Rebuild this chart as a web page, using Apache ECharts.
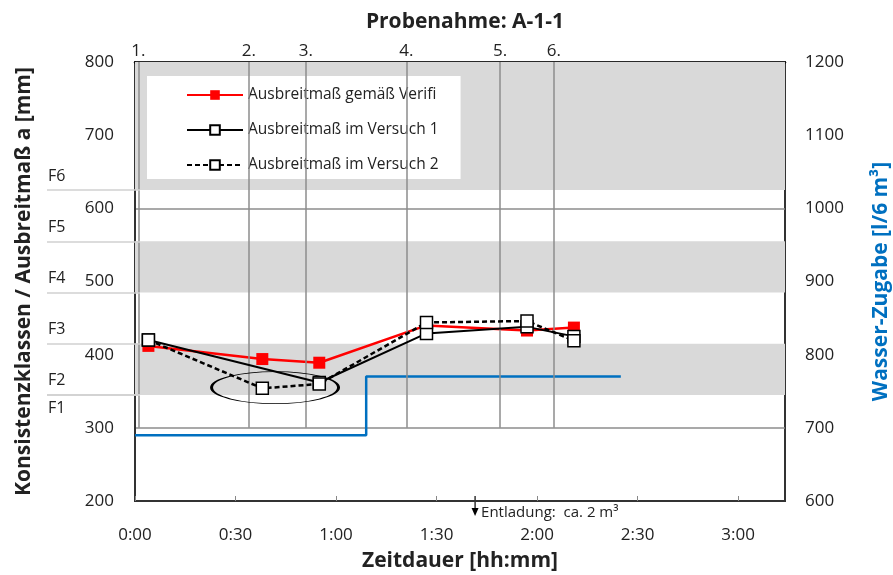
<!DOCTYPE html>
<html>
<head>
<meta charset="utf-8">
<script src="https://cdn.jsdelivr.net/npm/echarts@6/dist/echarts.min.js"></script>
<style>
  html, body { margin: 0; padding: 0; background: #fff; }
  #chart { width: 893px; height: 575px; }
</style>
</head>
<body>
<div id="chart"></div>
<script>
// measuring times (minutes after start)
const times = [4, 38, 55, 87, 117, 131];
const verifi = [412, 394, 389, 440, 433, 437];
const versuch1 = [420, null, 362, 429, 438, 425];
const versuch2 = [420, 354, 360, 444, 446, 419];

// Probenahme (top axis)
const sampleTimes = [1, 34, 51, 81, 109, 125];
const sampleLabels = ["1.", "2.", "3.", "4.", "5.", "6."];

// Wasser-Zugabe (right axis)
const waterTimes = [0, 69, 69, 145];
const waterValues = [690, 690, 770, 770];

// consistency classes
const classBounds = [345, 415, 485, 555, 625];
const classNames = ["F1", "F2", "F3", "F4", "F5", "F6"];
const grayBands = [[345, 415], [485, 555], [625, 800]];

const dischargeTime = 101.5;
const markedPoint = [41.8, 355];

const FONT = "Open Sans";
const TXT = "#222";

const fmtTime = (v) => {
  const h = Math.floor(v / 60);
  const m = v % 60;
  return h + ":" + (m < 10 ? "0" + m : m);
};

const chart = echarts.init(document.getElementById("chart"));

const classLines = classBounds.map((b, i) => ({
  yAxis: b,
  label: { formatter: classNames[i + 1], position: "insideStartTop" },
}));
classLines.push({
  yAxis: classBounds[0],
  label: { formatter: classNames[0], position: "insideStartBottom" },
});

chart.setOption({
  animation: false,
  textStyle: { fontFamily: FONT },
  title: {
    text: "Probenahme: A-1-1",
    left: 460,
    top: 7,
    textAlign: "center",
    textStyle: { fontFamily: FONT, fontSize: 21, fontWeight: "bold", color: TXT },
  },
  legend: {
    data: ["Ausbreitmaß gemäß Verifi", "Ausbreitmaß im Versuch 1", "Ausbreitmaß im Versuch 2"],
    orient: "vertical",
    left: 147,
    top: 76,
    backgroundColor: "#fff",
    padding: [11, 22, 6, 39],
    itemWidth: 56,
    itemHeight: 12,
    itemGap: 19,
    textStyle: { fontFamily: FONT, fontSize: 15.5, color: TXT },
  },
  grid: [
    {
      left: 135, right: 108, top: 62, bottom: 74,
      outerBoundsMode: "none",
      show: true, borderColor: "#333", borderWidth: 2, backgroundColor: "transparent",
    },
    { left: 47, width: 93, top: 62, bottom: 74, outerBoundsMode: "none" },
  ],
  xAxis: [
    {
      type: "value",
      gridIndex: 0,
      min: 0,
      max: 194,
      interval: 30,
      name: "Zeitdauer [hh:mm]",
      nameLocation: "middle",
      nameGap: 50,
      nameTextStyle: { fontFamily: FONT, fontSize: 21, fontWeight: "bold", color: TXT },
      axisLine: { lineStyle: { color: "#333", width: 2 } },
      axisTick: { inside: true, length: 5, lineStyle: { color: "#888" } },
      axisLabel: { formatter: fmtTime, margin: 26, fontSize: 17, color: TXT, showMaxLabel: false },
      splitLine: { show: false },
    },
    {
      type: "value",
      gridIndex: 0,
      position: "top",
      min: 0,
      max: 194,
      axisLine: { lineStyle: { color: "#111", width: 2.5 } },
      axisTick: { show: false },
      axisLabel: {
        customValues: sampleTimes,
        formatter: (v) => sampleLabels[sampleTimes.indexOf(v)],
        margin: 2,
        fontSize: 17,
        color: TXT,
      },
      splitLine: { show: false },
    },
    { type: "value", gridIndex: 1, min: 0, max: 1, show: false },
  ],
  yAxis: [
    {
      type: "value",
      gridIndex: 0,
      min: 200,
      max: 800,
      interval: 100,
      name: "Konsistenzklassen / Ausbreitmaß a [mm]",
      nameLocation: "middle",
      nameGap: 100,
      nameTextStyle: { fontFamily: FONT, fontSize: 21, fontWeight: "bold", color: TXT },
      axisLine: { show: true, lineStyle: { color: "#222", width: 2 } },
      axisTick: { show: false },
      axisLabel: {
        margin: 18,
        fontSize: 17,
        color: TXT,
        backgroundColor: "#fff",
        padding: [0, 3],
      },
      splitLine: { lineStyle: { color: "#8c8c8c", width: 1.5 } },
    },
    {
      type: "value",
      gridIndex: 0,
      position: "right",
      min: 600,
      max: 1200,
      interval: 100,
      name: "Wasser-Zugabe [l/6 m³]",
      nameLocation: "middle",
      nameGap: 86,
      nameRotate: 90,
      nameTextStyle: { fontFamily: FONT, fontSize: 21, fontWeight: "bold", color: "#0070c0" },
      axisLine: { show: true, lineStyle: { color: "#333", width: 2 } },
      axisTick: { show: false },
      axisLabel: { margin: 20, fontSize: 17, color: TXT, formatter: (v) => String(v) },
      splitLine: { show: false },
    },
    { type: "value", gridIndex: 1, min: 200, max: 800, show: false },
  ],
  series: [
    {
      // consistency class bands + sample verticals
      name: "bands",
      type: "line",
      xAxisIndex: 0,
      yAxisIndex: 0,
      data: [],
      z: -1,
      silent: true,
      markArea: {
        silent: true,
        itemStyle: { color: "#d9d9d9" },
        data: grayBands.map((b) => [{ yAxis: b[0] }, { yAxis: b[1] }]),
      },
      markLine: {
        silent: true,
        symbol: "none",
        label: { show: false },
        lineStyle: { color: "#8c8c8c", width: 1.5, type: "solid" },
        data: sampleTimes.map((t) => [{ coord: [t, 300] }, { coord: [t, 800] }]),
      },
    },
    {
      // class labels in the left margin
      name: "classes",
      type: "line",
      xAxisIndex: 2,
      yAxisIndex: 2,
      data: [],
      z: -2,
      silent: true,
      markLine: {
        silent: true,
        symbol: "none",
        lineStyle: { color: "#d0d0d0", width: 1.5, type: "solid" },
        label: { fontFamily: FONT, fontSize: 16, color: TXT, distance: [1, 6] },
        data: classLines,
      },
    },
    {
      name: "Wasser-Zugabe",
      type: "line",
      xAxisIndex: 0,
      yAxisIndex: 1,
      data: waterTimes.map((t, i) => [t, waterValues[i]]),
      showSymbol: false,
      symbol: "none",
      lineStyle: { color: "#0070c0", width: 2.5 },
      itemStyle: { color: "#0070c0" },
      z: 3,
    },
    {
      name: "Ausbreitmaß gemäß Verifi",
      type: "line",
      data: times.map((t, i) => [t, verifi[i]]),
      symbol: "rect",
      symbolSize: 12,
      lineStyle: { color: "#ff0000", width: 2.5 },
      itemStyle: { color: "#ff0000" },
      z: 4,
    },
    {
      name: "Ausbreitmaß im Versuch 1",
      type: "line",
      data: times.map((t, i) => [t, versuch1[i]]),
      connectNulls: true,
      symbol: "rect",
      symbolSize: 12,
      lineStyle: { color: "#000", width: 2 },
      itemStyle: { color: "#fff", borderColor: "#000", borderWidth: 1.5 },
      z: 5,
    },
    {
      name: "Ausbreitmaß im Versuch 2",
      type: "line",
      data: times.map((t, i) => [t, versuch2[i]]),
      symbol: "rect",
      symbolSize: 12,
      lineStyle: { color: "#000", width: 2.5, type: [5, 3] },
      itemStyle: { color: "#fff", borderColor: "#000", borderWidth: 1.5 },
      z: 6,
      markPoint: {
        silent: true,
        symbol: "circle",
        symbolSize: [127, 32],
        itemStyle: { color: "rgba(0,0,0,0)", borderColor: "#000", borderWidth: 1.5 },
        label: { show: false },
        data: [{ coord: markedPoint }],
      },
    },
  ],
});

// discharge annotation below the time axis
const p = chart.convertToPixel({ xAxisIndex: 0, yAxisIndex: 0 }, [dischargeTime, 200]);
chart.setOption({
  graphic: [
    {
      type: "line",
      shape: { x1: p[0], y1: p[1] - 5, x2: p[0], y2: p[1] + 8 },
      style: { stroke: "#000", lineWidth: 1.2 },
    },
    {
      type: "polygon",
      shape: { points: [[p[0] - 3.5, p[1] + 7], [p[0] + 3.5, p[1] + 7], [p[0], p[1] + 15]] },
      style: { fill: "#000" },
    },
    {
      type: "text",
      x: p[0] + 6,
      y: p[1] + 12,
      style: {
        text: "Entladung:  ca. 2 m³",
        fontFamily: FONT,
        fontSize: 15,
        fill: TXT,
        verticalAlign: "middle",
      },
    },
  ],
});
</script>
</body>
</html>
